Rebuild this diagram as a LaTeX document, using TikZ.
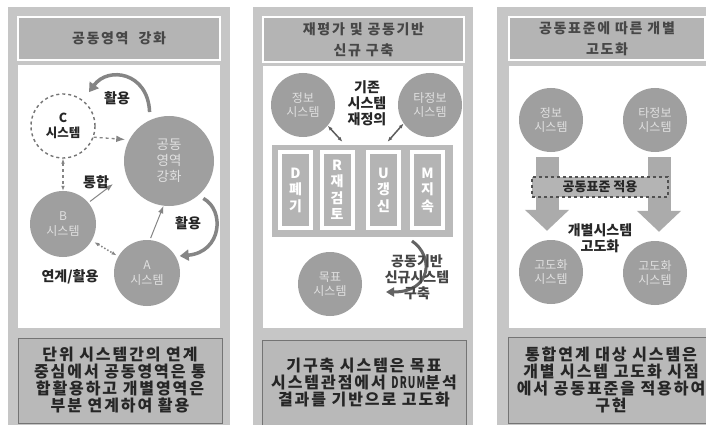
\documentclass[tikz,border=0pt]{standalone}
\usepackage{fontspec}
\usepackage{graphicx}
\newfontfamily\kr{Noto Sans CJK KR}
\newfontfamily\krs{Noto Sans CJK KR}[LetterSpace=12]
\usetikzlibrary{arrows.meta,calc}

\definecolor{panelgray}{HTML}{C6C6C6}
\definecolor{titlegray}{HTML}{B4B4B4}
\definecolor{circgray}{HTML}{9F9F9F}
\definecolor{notegray}{HTML}{B9B9B9}
\definecolor{edgegray}{HTML}{747474}
\definecolor{softtext}{HTML}{E0E0E0}
\definecolor{inktext}{HTML}{262626}
\definecolor{swoopgray}{HTML}{858585}

\begin{document}
\begin{tikzpicture}[
  x=1pt, y=-1pt,
  >=Latex,
  every node/.style={font=\kr},
  panel/.style={fill=panelgray},
  stage/.style={fill=white},
  titlebox/.style={fill=titlegray, draw=white, line width=1.5pt, align=center,
    text=inktext!85!white, font=\krs\bfseries\fontsize{14}{21}\selectfont},
  note/.style={fill=notegray, draw=edgegray, line width=1pt, align=center,
    text=inktext, font=\krs\bfseries\fontsize{16}{17}\selectfont},
  sys/.style={circle, fill=circgray, minimum size=64pt, inner sep=0pt, align=center,
    text=softtext, font=\kr\fontsize{12}{14.5}\selectfont},
  ghost/.style={circle, fill=white, draw=edgegray, dashed, line width=1.4pt,
    minimum size=64pt, inner sep=0pt, align=center, text=inktext,
    font=\kr\bfseries\fontsize{12.5}{15}\selectfont},
  tag/.style={align=center, text=inktext, font=\kr\bfseries\fontsize{14}{16}\selectfont},
  drumbox/.style={fill=titlegray, draw=white, line width=4pt, minimum width=31pt,
    minimum height=76pt, inner sep=0pt, align=center, text=white,
    font=\kr\bfseries\fontsize{14}{16.5}\selectfont},
  swoop/.style={-{Triangle[length=9pt,width=11pt]}, line width=3.5pt, swoopgray},
  link/.style={->, line width=1.3pt, swoopgray},
  dlink/.style={{Latex[length=5pt]}-{Latex[length=5pt]}, line width=1.5pt, edgegray!80!black},
  downarrow/.style={-{Triangle[length=21pt,width=43pt]}, line width=23pt, titlegray!95!black},
]
  \clip (0,0) rectangle (706,425);
  \fill[white] (0,0) rectangle (706,425);

  % Panels
  \fill[panel] (8,7) rectangle (230,425);
  \fill[panel] (253,7) rectangle (473,425);
  \fill[panel] (497,7) rectangle (716,425);
  \fill[stage] (18,65) rectangle (220,328);
  \fill[stage] (263,66) rectangle (463,328);
  \fill[stage] (509,66) rectangle (716,328);

  % Titles
  \node[titlebox, minimum width=202pt, minimum height=43pt] (titleL) at (119,38.5) {공동영역\hspace{10pt}강화};
  \node[titlebox, minimum width=201pt, minimum height=45pt] (titleM) at (363.5,39.5) {재평가 및 공동기반\\신규 구축};
  \node[titlebox, minimum width=196pt, minimum height=43pt] (titleR) at (607,38.5) {공동표준에 따른 개별\\고도화};

  % Left panel: common area
  \node[ghost] (sysC) at (63,126) {C\\시스템};
  \node[sys, minimum size=90pt, font=\kr\fontsize{13.5}{16}\selectfont] (common) at (169,161) {공동\\영역\\강화};
  \node[sys, minimum size=66pt] (sysB) at (63,224) {B\\시스템};
  \node[sys, minimum size=66pt] (sysA) at (147,273) {A\\시스템};

  \draw[swoop, shorten <=8pt, shorten >=10pt] (common.115) .. controls (148,72) and (108,66) .. (sysC.52);
  \node[tag] (useTop) at (117,98) {활용};
  \draw[swoop, shorten <=6pt, shorten >=4pt] (common.-50) .. controls (225,210) and (222,252) .. (sysA.30);
  \node[tag] (useRight) at (188,223) {활용};

  \draw[link, dashed, shorten >=4pt] (sysC.-20) -- (common.152);
  \draw[dlink, dashed, swoopgray] (sysC.south) -- (sysB.north);
  \draw[dlink, dotted, swoopgray, shorten <=3pt, shorten >=2pt] (sysB.-30) -- (sysA.150);
  \draw[link, line width=1pt, shorten <=2pt] (sysA.85) -- (common.-97);
  \coordinate (mergeEnd) at (113,184);
  \draw[link, line width=1pt, shorten <=2pt] (sysB.40) -- (mergeEnd);
  \node[tag] (merge) at (96,182) {통합};
  \node[tag] (linkUse) at (70,277) {연계/활용};

  \node[note, minimum width=204pt, minimum height=85pt] (noteL) at (120,380.5)
    {단위 시스템간의 연계\\중심에서 공동영역은 통\\합활용하고 개별영역은\\부분 연계하여 활용};

  % Middle panel: re-evaluation and DRUM
  \node[sys] (infoM) at (303,105) {정보\\시스템};
  \node[sys] (otherM) at (430,105) {타정보\\시스템};
  \node[tag] (redef) at (367,103) {기존\\시스템\\재정의};

  \node[fill=titlegray!92!white, minimum width=181pt, minimum height=92pt] (drum) at (362.5,191) {};
  \node[drumbox] (boxD) at (295.5,190) {D\\폐\\기};
  \node[drumbox] (boxR) at (337,190) {R\\재\\검\\토};
  \node[drumbox] (boxU) at (383.5,190) {U\\갱\\신};
  \node[drumbox] (boxM) at (427.5,190) {M\\지\\속};

  \draw[dlink] (infoM.-40) -- ([xshift=-20pt,yshift=3pt]drum.north);
  \draw[dlink] (otherM.-145) -- ([xshift=25pt,yshift=3pt]drum.north);

  \node[sys] (target) at (330,284) {목표\\시스템};
  \coordinate (buildTop) at (412,241);
  \coordinate (buildEnd) at (386,292);
  \draw[-{Triangle[length=8pt,width=9pt]}, line width=3pt, edgegray!85!black]
    (buildTop) .. controls (434,256) and (432,292) .. (buildEnd);
  \node[tag, text=edgegray!60!black] (build) at (417,277) {공동기반\\신규시스템\\구축};

  \node[note, minimum width=204pt, minimum height=85pt] (noteM) at (364,382.5)
    {기구축 시스템은 목표\\시스템관점에서 \scalebox{0.62}[1]{DRUM}분석\\결과를 기반으로 고도화};

  % Right panel: common standard
  \node[sys] (infoR) at (551,120) {정보\\시스템};
  \node[sys] (otherR) at (655,120) {타정보\\시스템};
  \node[sys] (upL) at (551,272) {고도화\\시스템};
  \node[sys] (upR) at (655,273) {고도화\\시스템};

  \draw[downarrow, shorten <=5pt, shorten >=9pt] ([xshift=-4pt]infoR.south) -- ([xshift=-4pt]upL.north);
  \draw[downarrow, shorten <=5pt, shorten >=9pt] ([xshift=4pt]otherR.south) -- ([xshift=4pt]upR.north);

  \node[fill=titlegray, draw=edgegray!70!black, dashed, line width=1.3pt, minimum width=136pt,
    minimum height=20pt, inner sep=0pt, text=inktext, font=\kr\bfseries\fontsize{13}{15}\selectfont]
    (standard) at (600,187) {공동표준 적용};
  \node[tag] (refine) at (600,238) {개별시스템\\고도화};

  \node[note, minimum width=205pt, minimum height=86pt] (noteR) at (611,380)
    {통합연계 대상 시스템은\\개별 시스템 고도화 시점\\에서 공동표준을 적용하여\\구현};
\end{tikzpicture}
\end{document}
